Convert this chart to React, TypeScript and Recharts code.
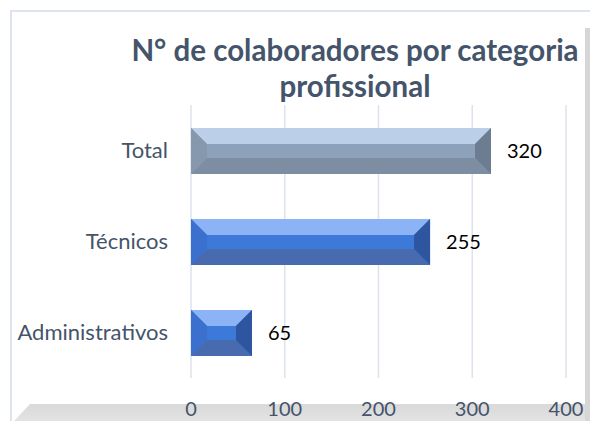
import { BarChart, Bar, XAxis, YAxis, CartesianGrid, LabelList } from "recharts";

const categories = ["Total", "Técnicos", "Administrativos"];
const counts = [320, 255, 65];
const xTicks = [0, 100, 200, 300, 400];

const TITLE_LINES = ["N° de colaboradores por categoria", "profissional"];
const SLATE = "#44546A";

interface Bevel {
  top: string;
  mid: string;
  bottom: string;
  left: string;
  right: string;
}

const greyBevel: Bevel = {
  top: "#BBCFE8",
  mid: "#8CA1BA",
  bottom: "#7E8EA2",
  left: "#8598AE",
  right: "#6C7D92",
};

const blueBevel: Bevel = {
  top: "#8BB3F6",
  mid: "#3D79D8",
  bottom: "#486BAF",
  left: "#3C70CE",
  right: "#2D55A0",
};

function bevelFor(name: string): Bevel {
  return name === "Total" ? greyBevel : blueBevel;
}

function BevelBar(props: any) {
  const { x, y, width, height, payload } = props;
  if (!width || width <= 0) return null;
  const c = bevelFor(payload?.name);
  const b = Math.min(16, width / 2, height / 2);
  const x2 = x + width;
  const y2 = y + height;
  const my = y + height / 2;
  return (
    <g>
      <rect x={x} y={y} width={width} height={height} fill={c.mid} />
      <polygon points={`${x},${y} ${x2},${y} ${x2 - b},${y + b} ${x + b},${y + b}`} fill={c.top} />
      <polygon points={`${x},${y2} ${x2},${y2} ${x2 - b},${y2 - b} ${x + b},${y2 - b}`} fill={c.bottom} />
      <polygon points={`${x},${y} ${x + b},${y + b} ${x + b},${y2 - b} ${x},${y2}`} fill={c.left} />
      <polygon points={`${x2},${y} ${x2 - b},${y + b} ${x2 - b},${y2 - b} ${x2},${y2}`} fill={c.right} />
      <rect x={x + b} y={my - 7} width={Math.max(0, width - 2 * b)} height={14} fill={c.mid} opacity={0.9} />
    </g>
  );
}

export default function App() {
  const data = categories.map((name, i) => ({ name, value: counts[i] }));

  return (
    <div
      style={{
        position: "fixed",
        left: 0,
        top: 0,
        width: 590,
        height: 421,
        background: "#fff",
        overflow: "hidden",
        fontFamily: "Lato, sans-serif",
      }}
    >
      {/* chart frame */}
      <div
        style={{
          position: "absolute",
          left: 10,
          top: 10,
          width: 600,
          height: 420,
          borderTop: "2px solid #DDE4EE",
          borderLeft: "2px solid #DDE4EE",
        }}
      />
      {/* 3d floor + side wall */}
      <div
        style={{
          position: "absolute",
          left: 0,
          top: 404,
          width: 590,
          height: 17,
          background: "linear-gradient(#D9D9D9, #E3E3E3)",
          clipPath: "polygon(30px 0, 590px 0, 590px 17px, 14px 17px)",
        }}
      />
      <div
        style={{
          position: "absolute",
          left: 585,
          top: 28,
          width: 5,
          height: 393,
          background: "#D6D6D6",
        }}
      />
      <div
        style={{
          position: "absolute",
          left: 355 - 260,
          top: 32,
          width: 520,
          textAlign: "center",
          color: SLATE,
          fontWeight: 700,
          fontSize: 29.5,
          lineHeight: "36px",
        }}
      >
        {TITLE_LINES.map((l) => (
          <div key={l}>{l}</div>
        ))}
      </div>
      <div style={{ position: "absolute", left: 0, top: 0 }}>
        <BarChart
          width={590}
          height={421}
          data={data}
          layout="vertical"
          margin={{ top: 105, right: 24, bottom: 0, left: 11 }}
          barSize={46}
        >
          <CartesianGrid horizontal={false} stroke="#DCE3ED" strokeWidth={1.5} />
          <XAxis
            type="number"
            domain={[0, 400]}
            ticks={xTicks}
            interval={0}
            axisLine={false}
            tickLine={false}
            tickSize={0}
            tickMargin={24}
            height={43}
            tick={{ fill: SLATE, fontSize: 20, fontFamily: "Lato, sans-serif" }}
          />
          <YAxis
            type="category"
            dataKey="name"
            width={180}
            axisLine={false}
            tickLine={false}
            tickSize={0}
            tickMargin={23}
            tick={{ fill: SLATE, fontSize: 22, fontFamily: "Lato, sans-serif" }}
          />
          <Bar dataKey="value" isAnimationActive={false} shape={BevelBar}>
            <LabelList
              dataKey="value"
              position="right"
              offset={16}
              fill="#000"
              fontSize={20}
              fontFamily="Lato, sans-serif"
            />
          </Bar>
        </BarChart>
      </div>
    </div>
  );
}
